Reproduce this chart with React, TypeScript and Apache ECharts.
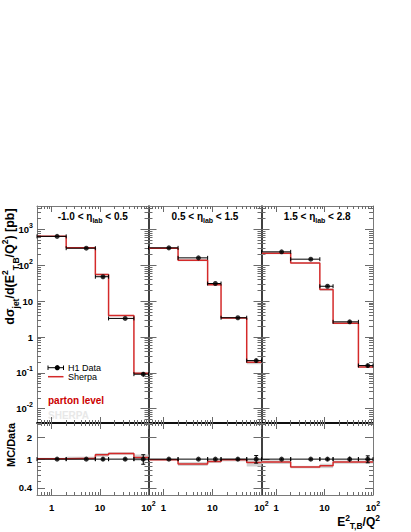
import React, { useEffect, useRef } from "react";
import * as echarts from "echarts";

// ---------- data ----------
const binEdges = [0.5, 2, 8, 15, 50, 100];
const binCenters = [1.3, 5.2, 11.5, 33, 78];
const etaLow = ["-1.0", "0.5", "1.5"];
const etaHigh = ["0.5", "1.5", "2.8"];

const h1Data1 = [640, 300, 48, 3.3, 0.092];
const h1Data2 = [306, 161, 31, 3.45, 0.22];
const h1Data3 = [237, 148, 26, 2.65, 0.16];
const h1Err1 = [0.03, 0.03, 0.06, 0.04, 0.15];
const h1Err2 = [0.03, 0.03, 0.04, 0.05, 0.12];
const h1Err3 = [0.03, 0.04, 0.05, 0.08, 0.11];

const sherpa1 = [648, 309, 55, 3.95, 0.097];
const sherpa2 = [300, 138, 28.8, 3.38, 0.198];
const sherpa3 = [216, 115, 21, 2.41, 0.146];
const sherpaUnc1 = [0.03, 0.05, 0.06, 0.04, 0.1];
const sherpaUnc2 = [0.03, 0.06, 0.05, 0.05, 0.12];
const sherpaUnc3 = [0.06, 0.04, 0.07, 0.05, 0.05];

const xMajorTicks = [1, 10, 100];
const xMinorTicks = [0.6, 0.7, 0.8, 0.9, 2, 3, 4, 5, 6, 7, 8, 9, 20, 30, 40, 50, 60, 70, 80, 90];
const yMajorTicks = [0.01, 0.1, 1, 10, 100, 1000];
const yMinorTicks = [
  0.004, 0.005, 0.006, 0.007, 0.008, 0.009,
  0.02, 0.03, 0.04, 0.05, 0.06, 0.07, 0.08, 0.09,
  0.2, 0.3, 0.4, 0.5, 0.6, 0.7, 0.8, 0.9,
  2, 3, 4, 5, 6, 7, 8, 9,
  20, 30, 40, 50, 60, 70, 80, 90,
  200, 300, 400, 500, 600, 700, 800, 900,
  2000, 3000, 4000,
];
const ratioMajorTicks = [0.4, 1, 2];
const ratioMinorTicks = [0.5, 0.6, 0.7, 0.8, 0.9, 3];

const dataSets = [h1Data1, h1Data2, h1Data3];
const errSets = [h1Err1, h1Err2, h1Err3];
const mcSets = [sherpa1, sherpa2, sherpa3];
const uncSets = [sherpaUnc1, sherpaUnc2, sherpaUnc3];

// ---------- layout / style ----------
const X_MIN = 0.5, X_MAX = 100;
const Y_MIN = 0.004, Y_MAX = 4500;
const R_MIN = 0.32, R_MAX = 3.15;
const panelX = [37, 148.5, 261.5, 373];
const TOP = 206, MID = 423, BOTTOM = 495;
const FONT = "Liberation Sans";
const FRAME = "#7a7a7a";
const SEP = "#000000";
const TICK = "#6a6a6a";
const RED = "#d42a2a";
const BAND = "#d2d2d2";

const supStyle = (size: number, lh: number) => ({
  fontFamily: FONT, fontWeight: "bold", fontSize: size, lineHeight: lh, verticalAlign: "top", color: "#000", fill: "#000",
});
const subStyle = (size: number, lh: number) => ({
  fontFamily: FONT, fontWeight: "bold", fontSize: size, lineHeight: lh, verticalAlign: "bottom", color: "#000", fill: "#000",
});

const powLabel = (v: number) => {
  const e = Math.round(Math.log10(v));
  if (e === 0) return "1";
  if (e === 1) return "10";
  return `10{sup|${e}}`;
};

const labelBase = {
  show: true, color: "#000", fontFamily: FONT, fontWeight: "bold", fontSize: 9.5, lineHeight: 15,
  rich: { sup: supStyle(7, 7) },
};

function logAxis(o: any) {
  return {
    type: "log", logBase: 10, gridIndex: o.grid, position: o.pos, min: o.min, max: o.max,
    axisLine: o.line
      ? { show: true, onZero: false, lineStyle: { color: o.line.color, width: o.line.width } }
      : { show: false, onZero: false },
    axisTick: { show: true, inside: true, length: o.len, customValues: o.ticks, lineStyle: { color: TICK, width: 1 } },
    axisLabel: o.label ? o.label : { show: false },
    splitLine: { show: false },
    minorTick: { show: false },
    minorSplitLine: { show: false },
    silent: true,
  };
}

function bandRender(params: any, api: any) {
  const a = api.coord([api.value(0), api.value(3)]);
  const b = api.coord([api.value(1), api.value(2)]);
  return {
    type: "rect",
    shape: { x: a[0], y: a[1], width: b[0] - a[0], height: b[1] - a[1] },
    style: { fill: BAND },
  };
}

function errRender(params: any, api: any) {
  const a = api.coord([api.value(0), api.value(2)]);
  const b = api.coord([api.value(1), api.value(2)]);
  const lo = api.coord([api.value(5), api.value(3)]);
  const hi = api.coord([api.value(5), api.value(4)]);
  const st = { stroke: "#000", lineWidth: 1 };
  const children: any[] = [
    { type: "line", shape: { x1: a[0], y1: a[1], x2: b[0], y2: b[1] }, style: st },
    { type: "line", shape: { x1: a[0], y1: a[1] - 2, x2: a[0], y2: a[1] + 2 }, style: st },
    { type: "line", shape: { x1: b[0], y1: b[1] - 2, x2: b[0], y2: b[1] + 2 }, style: st },
    { type: "line", shape: { x1: lo[0], y1: lo[1], x2: hi[0], y2: hi[1] }, style: st },
  ];
  if (lo[1] - hi[1] > 6) {
    children.push({ type: "line", shape: { x1: lo[0] - 2, y1: lo[1], x2: lo[0] + 2, y2: lo[1] }, style: st });
    children.push({ type: "line", shape: { x1: hi[0] - 2, y1: hi[1], x2: hi[0] + 2, y2: hi[1] }, style: st });
  }
  return { type: "group", children };
}

function buildOption() {
  const grid: any[] = [];
  const xAxis: any[] = [];
  const yAxis: any[] = [];
  const series: any[] = [];

  for (let row = 0; row < 2; row++) {
    for (let p = 0; p < 3; p++) {
      const g = row * 3 + p;
      const upper = row === 0;
      grid.push({
        left: panelX[p], top: upper ? TOP : MID,
        width: panelX[p + 1] - panelX[p], height: upper ? MID - TOP : BOTTOM - MID,
        show: false, containLabel: false, outerBoundsMode: "none",
      });
      // x axes
      xAxis.push(logAxis({
        grid: g, pos: "bottom", min: X_MIN, max: X_MAX, ticks: xMajorTicks, len: 6,
        line: upper ? { color: SEP, width: 1.5 } : { color: FRAME, width: 1 },
        label: upper ? null : { ...labelBase, margin: 5, customValues: xMajorTicks, formatter: powLabel },
      }));
      xAxis.push(logAxis({ grid: g, pos: "bottom", min: X_MIN, max: X_MAX, ticks: xMinorTicks, len: 3 }));
      xAxis.push(logAxis({
        grid: g, pos: "top", min: X_MIN, max: X_MAX, ticks: xMajorTicks, len: 6,
        line: upper ? { color: FRAME, width: 1 } : { color: SEP, width: 1.5 },
      }));
      xAxis.push(logAxis({ grid: g, pos: "top", min: X_MIN, max: X_MAX, ticks: xMinorTicks, len: 3 }));
      // y axes
      const ymin = upper ? Y_MIN : R_MIN;
      const ymax = upper ? Y_MAX : R_MAX;
      const maj = upper ? yMajorTicks : ratioMajorTicks;
      const min = upper ? yMinorTicks : ratioMinorTicks;
      const yLab = p === 0
        ? upper
          ? { ...labelBase, margin: 4, customValues: yMajorTicks, formatter: powLabel }
          : { ...labelBase, margin: 5, customValues: ratioMajorTicks, formatter: (v: number) => String(+Number(v).toPrecision(2)) }
        : null;
      yAxis.push(logAxis({
        grid: g, pos: "left", min: ymin, max: ymax, ticks: maj, len: 8,
        line: p === 0 ? { color: FRAME, width: 1 } : { color: SEP, width: 1.5 },
        label: yLab,
      }));
      yAxis.push(logAxis({ grid: g, pos: "left", min: ymin, max: ymax, ticks: min, len: 4 }));
      yAxis.push(logAxis({
        grid: g, pos: "right", min: ymin, max: ymax, ticks: maj, len: 8,
        line: p === 2 ? { color: FRAME, width: 1 } : null,
      }));
      yAxis.push(logAxis({ grid: g, pos: "right", min: ymin, max: ymax, ticks: min, len: 4 }));

      const d = dataSets[p];
      const e = errSets[p];
      const mc = mcSets[p];
      const u = uncSets[p];
      const idx = [0, 1, 2, 3, 4];
      const val = upper ? mc : mc.map((m, i) => m / d[i]);
      const pts = upper ? d : d.map(() => 1);
      const ai = 4 * g;

      series.push({
        type: "custom", xAxisIndex: ai, yAxisIndex: ai, silent: true, z: 1,
        data: idx.map((i) => [binEdges[i], binEdges[i + 1], val[i] * (1 - u[i]), val[i] * (1 + u[i])]),
        renderItem: bandRender,
      });
      series.push({
        type: "line", xAxisIndex: ai, yAxisIndex: ai, step: "end", silent: true, z: 2,
        symbol: "none", showSymbol: false,
        data: binEdges.map((x, i) => [x, val[Math.min(i, 4)]]),
        lineStyle: { color: RED, width: 1.5 },
      });
      series.push({
        type: "custom", xAxisIndex: ai, yAxisIndex: ai, silent: true, z: 3,
        data: idx.map((i) => [binEdges[i], binEdges[i + 1], pts[i], pts[i] * (1 - e[i]), pts[i] * (1 + e[i]), binCenters[i]]),
        renderItem: errRender,
      });
      series.push({
        type: "scatter", xAxisIndex: ai, yAxisIndex: ai, silent: true, z: 4,
        symbol: "circle", symbolSize: 5,
        data: idx.map((i) => [binCenters[i], pts[i]]),
        itemStyle: { color: "#000" },
      });
    }
  }

  const txt = (x: number, y: number, text: string, size: number, extra: any = {}) => ({
    type: "text", x, y, silent: true, rotation: extra.rotation || 0,
    style: {
      text, fill: extra.fill || "#000", fontFamily: FONT, fontWeight: extra.weight || "bold", fontSize: size,
      lineHeight: extra.lh || size + 4,
      textAlign: extra.align || "left", align: extra.align || "left",
      textVerticalAlign: "middle", verticalAlign: "middle",
      rich: extra.rich,
    },
  });

  const graphic: any[] = [];
  etaLow.forEach((lo, p) => {
    graphic.push(txt((panelX[p] + panelX[p + 1]) / 2, 216.5, `${lo} < η{sub|lab} < ${etaHigh[p]}`, 10, {
      align: "center", lh: 14, rich: { sub: subStyle(7, 7) },
    }));
  });
  // legend
  const lw = { stroke: "#000", lineWidth: 1 };
  graphic.push({ type: "line", silent: true, shape: { x1: 48, y1: 367.7, x2: 63.5, y2: 367.7 }, style: lw });
  graphic.push({ type: "line", silent: true, shape: { x1: 48, y1: 365.5, x2: 48, y2: 370 }, style: lw });
  graphic.push({ type: "line", silent: true, shape: { x1: 63.5, y1: 365.5, x2: 63.5, y2: 370 }, style: lw });
  graphic.push({ type: "circle", silent: true, shape: { cx: 57.3, cy: 367.7, r: 2.6 }, style: { fill: "#000" } });
  graphic.push(txt(68, 367.7, "H1 Data", 9, { weight: "normal" }));
  graphic.push({ type: "line", silent: true, shape: { x1: 48, y1: 376.7, x2: 63.5, y2: 376.7 }, style: { stroke: RED, lineWidth: 1.5 } });
  graphic.push(txt(68, 376.7, "Sherpa", 9, { weight: "normal" }));
  graphic.push(txt(48, 400.7, "parton level", 10, { fill: "#cc0000" }));
  graphic.push(txt(48, 415.7, "SHERPA", 10, { fill: "#e8e8e8" }));

  // axis titles
  graphic.push(txt(10, 266.5, "dσ{sub|jet}/d(E{sup|2}{sub|T,B}/Q{sup|2}) [pb]", 12.5, {
    align: "center", lh: 20, rotation: Math.PI / 2,
    rich: { sub: subStyle(8.5, 9), sup: supStyle(8.5, 9) },
  }));
  graphic.push(txt(11, 445, "MC/Data", 11, { align: "center", rotation: Math.PI / 2 }));
  graphic.push(txt(380, 522, "E{sup|2}{sub|T,B}/Q{sup|2}", 12, {
    align: "right", lh: 17, rich: { sub: subStyle(8.5, 8), sup: supStyle(8.5, 8) },
  }));

  return {
    animation: false,
    backgroundColor: "#ffffff",
    textStyle: { fontFamily: FONT },
    grid, xAxis, yAxis, series, graphic,
  };
}

export default function App() {
  const ref = useRef<HTMLDivElement>(null);
  useEffect(() => {
    document.body.style.margin = "0";
    const chart = echarts.init(ref.current!, undefined, { renderer: "svg" });
    chart.setOption(buildOption() as any);
    return () => chart.dispose();
  }, []);
  return (
    <div
      ref={ref}
      style={{ position: "fixed", left: 0, top: 0, width: 411, height: 532, background: "#fff" }}
    />
  );
}
